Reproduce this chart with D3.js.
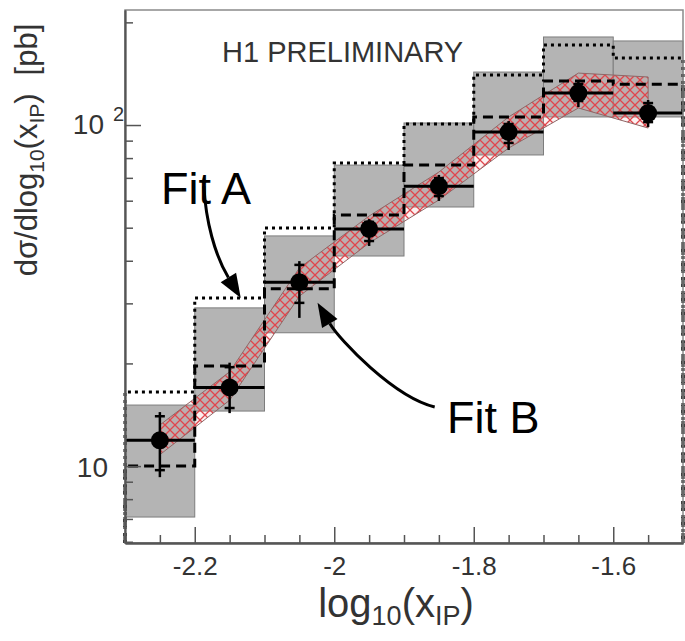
<!DOCTYPE html>
<html>
<head>
<meta charset="utf-8">
<script src="https://cdn.jsdelivr.net/npm/d3@7"></script>
<style>
  body { margin: 0; background: #fff; }
  svg { display: block; font-family: "Liberation Sans", Arial, sans-serif; }
</style>
</head>
<body>
<div id="chart"></div>
<script>
// bins in log10(x_IP)
const binLo = [-2.3, -2.2, -2.1, -2.0, -1.9, -1.8, -1.7, -1.6];
const binHi = [-2.2, -2.1, -2.0, -1.9, -1.8, -1.7, -1.6, -1.5];
const binMid = [-2.25, -2.15, -2.05, -1.95, -1.85, -1.75, -1.65, -1.55];

// measured cross section [pb] with stat (tick) and total (line end) errors
const dataVal = [11.9, 17.0, 34.6, 49.6, 66.2, 95.4, 124.1, 108.4];
const statHi = [14.0, 19.5, 38.9, 52.0, 69.9, 100.7, 131.9, 116.0];
const statLo = [9.73, 14.8, 30.1, 45.7, 61.9, 88.6, 117.6, 102.0];
const totHi = [14.4, 20.1, 39.9, 53.0, 71.4, 102.7, 134.6, 118.4];
const totLo = [9.28, 14.3, 27.2, 44.2, 59.9, 84.5, 112.9, 98.7];

// grey uncertainty boxes
const boxHi = [15.1, 29.1, 47.3, 76.3, 101.4, 143.0, 181.2, 176.4];
const boxLo = [7.09, 14.5, 24.6, 41.3, 57.5, 81.7, 105.6, 105.6];

// model histograms
const dottedVal = [16.5, 31.1, 49.9, 77.4, 100.7, 140.2, 171.7, 157.2];
const dashedVal = [10.0, 19.65, 33.1, 54.5, 76.3, 105.6, 134.6, 131.7];

// hatched fit band at bin centres
const bandHi = [13.2, 18.9, 38.1, 54.1, 72.8, 105.6, 142.0, 138.3];
const bandLo = [10.8, 15.6, 31.5, 45.1, 60.3, 85.6, 112.2, 98.0];

// axis ticks
const xMajor = [-2.2, -2.0, -1.8, -1.6];
const xMinor = [-2.25, -2.15, -2.1, -2.05, -1.95, -1.9, -1.85, -1.75, -1.7, -1.65, -1.55];
const yMajor = [10, 100];
const yMinor = [6, 7, 8, 9, 20, 30, 40, 50, 60, 70, 80, 90, 200];

// arrows: tail and tip in data units
const arrowA = { tail: [-2.187, 66.2], tip: [-2.134, 31.1] };
const arrowB = { tail: [-1.856, 14.9], tip: [-2.024, 30.1] };

const W = 685, H = 641;
const margin = { left: 125, right: 1, top: 10, bottom: 98 };

const x = d3.scaleLinear().domain([-2.3, -1.5]).range([margin.left, W - margin.right - 1]);
const y = d3.scaleLog().domain([5.95, 217.4]).range([H - margin.bottom, margin.top]);
const yBottom = y.domain()[0];
const idx = d3.range(binMid.length);

const svg = d3.select("#chart").append("svg").attr("width", W).attr("height", H);

const defs = svg.append("defs");
const pat = defs.append("pattern").attr("id", "hatch")
  .attr("width", 10).attr("height", 10).attr("patternUnits", "userSpaceOnUse");
pat.append("path").attr("d", "M-1,-1 L11,11 M11,-1 L-1,11 M-1,9 L1,11 M9,-1 L11,1")
  .attr("stroke", "#e0464c").attr("stroke-width", 1.3).attr("fill", "none");
defs.append("clipPath").attr("id", "clip").append("rect")
  .attr("x", margin.left).attr("y", margin.top)
  .attr("width", W - margin.left - margin.right).attr("height", H - margin.top - margin.bottom);

const plot = svg.append("g").attr("clip-path", "url(#clip)");

// grey boxes
plot.selectAll("rect.box").data(idx).join("rect")
  .attr("class", "box")
  .attr("x", i => x(binLo[i]))
  .attr("width", i => x(binHi[i]) - x(binLo[i]))
  .attr("y", i => y(boxHi[i]))
  .attr("height", i => y(boxLo[i]) - y(boxHi[i]))
  .attr("fill", "#b4b4b4")
  .attr("stroke", "#7d7d7d")
  .attr("stroke-width", 1);

// fit band
const band = d3.area()
  .x(i => x(binMid[i]))
  .y0(i => y(bandLo[i]))
  .y1(i => y(bandHi[i]));
plot.append("path").attr("d", band(idx)).attr("fill", "rgba(235,150,150,0.14)");
plot.append("path").attr("d", band(idx))
  .attr("fill", "url(#hatch)")
  .attr("stroke", "#8f6666").attr("stroke-width", 1);

// step histograms
function histPoints(vals) {
  const pts = [[binLo[0], yBottom]];
  vals.forEach((v, i) => { pts.push([binLo[i], v], [binHi[i], v]); });
  pts.push([binHi[vals.length - 1], yBottom]);
  return pts;
}
const histLine = d3.line().x(d => x(d[0])).y(d => y(d[1]));

svg.append("path").attr("d", histLine(histPoints(dottedVal)))
  .attr("fill", "none").attr("stroke", "#000")
  .attr("stroke-width", 3).attr("stroke-dasharray", "3,4");
svg.append("path").attr("d", histLine(histPoints(dashedVal)))
  .attr("fill", "none").attr("stroke", "#000")
  .attr("stroke-width", 3).attr("stroke-dasharray", "10,6");

// data points
const pts = plot.append("g");
pts.selectAll("line.hbar").data(idx).join("line")
  .attr("x1", i => x(binLo[i])).attr("x2", i => x(binHi[i]))
  .attr("y1", i => y(dataVal[i])).attr("y2", i => y(dataVal[i]))
  .attr("stroke", "#000").attr("stroke-width", 3);
pts.selectAll("line.vbar").data(idx).join("line")
  .attr("x1", i => x(binMid[i])).attr("x2", i => x(binMid[i]))
  .attr("y1", i => y(totHi[i])).attr("y2", i => y(totLo[i]))
  .attr("stroke", "#000").attr("stroke-width", 2.5);
[statHi, statLo].forEach(arr => {
  pts.selectAll(null).data(idx).join("line")
    .attr("x1", i => x(binMid[i]) - 5).attr("x2", i => x(binMid[i]) + 5)
    .attr("y1", i => y(arr[i])).attr("y2", i => y(arr[i]))
    .attr("stroke", "#000").attr("stroke-width", 2.5);
});
pts.selectAll("circle").data(idx).join("circle")
  .attr("cx", i => x(binMid[i])).attr("cy", i => y(dataVal[i]))
  .attr("r", 9).attr("fill", "#000");

// frame
svg.append("rect")
  .attr("x", margin.left).attr("y", margin.top)
  .attr("width", W - margin.left - margin.right - 1).attr("height", H - margin.top - margin.bottom)
  .attr("fill", "none").attr("stroke", "#8a8a8a").attr("stroke-width", 1.5);

// x axis
const gx = svg.append("g").attr("transform", "translate(0," + (H - margin.bottom) + ")");
gx.append("g")
  .call(d3.axisBottom(x).tickValues(xMinor).tickSizeInner(-8).tickSizeOuter(0).tickFormat(""));
gx.append("g")
  .call(d3.axisBottom(x).tickValues(xMajor).tickSizeInner(-16).tickSizeOuter(0)
    .tickPadding(14).tickFormat(d => String(d)));
gx.selectAll(".domain").attr("stroke", "#555").attr("stroke-width", 1.8);
gx.selectAll(".tick line").attr("stroke", "#555").attr("stroke-width", 1.5);
gx.selectAll(".tick text").style("font-size", "26px").attr("fill", "#333")
  .style("font-family", "Liberation Sans, Arial, sans-serif");

// y axis
const gy = svg.append("g").attr("transform", "translate(" + margin.left + ",0)");
gy.append("g")
  .call(d3.axisLeft(y).tickValues(yMinor).tickSizeInner(-8).tickSizeOuter(0).tickFormat(""));
gy.append("g")
  .call(d3.axisLeft(y).tickValues(yMajor).tickSizeInner(-16).tickSizeOuter(0).tickFormat(""));
gy.selectAll(".domain").attr("stroke", "#555").attr("stroke-width", 1.8);
gy.selectAll(".tick line").attr("stroke", "#555").attr("stroke-width", 1.5);

// y tick labels: 10 and 10^2
svg.append("text").attr("x", 108).attr("y", y(10) + 11)
  .attr("text-anchor", "end").style("font-size", "28px").attr("fill", "#333").text("10");
svg.append("text").attr("x", 104).attr("y", y(100) + 9)
  .attr("text-anchor", "end").style("font-size", "28px").attr("fill", "#333").text("10");
svg.append("text").attr("x", 113).attr("y", y(100) - 4)
  .style("font-size", "20px").attr("fill", "#333").text("2");

// axis titles
const xt = svg.append("text").attr("x", 396).attr("y", 617)
  .attr("text-anchor", "middle").style("font-size", "40px").attr("fill", "#333");
xt.append("tspan").text("log");
xt.append("tspan").attr("dy", 8).style("font-size", "27px").text("10");
xt.append("tspan").attr("dy", -8).text("(x");
xt.append("tspan").attr("dy", 8).style("font-size", "27px").text("IP");
xt.append("tspan").attr("dy", -8).text(")");

const yt = svg.append("text").attr("transform", "translate(37,150) rotate(-90)")
  .attr("text-anchor", "middle").style("font-size", "31px").attr("fill", "#333");
yt.append("tspan").text("dσ/dlog");
yt.append("tspan").attr("dy", 7).style("font-size", "21px").text("10");
yt.append("tspan").attr("dy", -7).text("(x");
yt.append("tspan").attr("dy", 7).style("font-size", "21px").text("IP");
yt.append("tspan").attr("dy", -7).text(")");
yt.append("tspan").attr("dx", 18).text("[pb]");

// labels
svg.append("text").attr("x", 222).attr("y", 62)
  .style("font-size", "29px").attr("fill", "#333").text("H1 PRELIMINARY");
svg.append("text").attr("x", 161).attr("y", 204)
  .style("font-size", "45px").attr("fill", "#000").text("Fit A");
svg.append("text").attr("x", 447).attr("y", 433)
  .style("font-size", "45px").attr("fill", "#000").text("Fit B");

// curved arrows
function drawArrow(a, c1off, c2off) {
  const t0 = [x(a.tail[0]), y(a.tail[1])];
  const tp = [x(a.tip[0]), y(a.tip[1])];
  const c1 = [t0[0] + c1off[0], t0[1] + c1off[1]];
  const c2 = [tp[0] + c2off[0], tp[1] + c2off[1]];
  const len = Math.hypot(tp[0] - c2[0], tp[1] - c2[1]);
  const dir = [(tp[0] - c2[0]) / len, (tp[1] - c2[1]) / len];
  const headL = 24, headW = 9;
  const base = [tp[0] - headL * dir[0], tp[1] - headL * dir[1]];
  const p = d3.path();
  p.moveTo(t0[0], t0[1]);
  p.bezierCurveTo(c1[0], c1[1], c2[0], c2[1], base[0], base[1]);
  svg.append("path").attr("d", p.toString())
    .attr("fill", "none").attr("stroke", "#000").attr("stroke-width", 3);
  const perp = [-dir[1], dir[0]];
  svg.append("polygon")
    .attr("points", [
      tp,
      [base[0] + headW * perp[0], base[1] + headW * perp[1]],
      [base[0] - headW * perp[0], base[1] - headW * perp[1]]
    ].map(q => q.join(",")).join(" "))
    .attr("fill", "#000");
}
drawArrow(arrowA, [2, 35], [-26, -43]);
drawArrow(arrowB, [-41, -10], [22, 37]);
</script>
</body>
</html>
